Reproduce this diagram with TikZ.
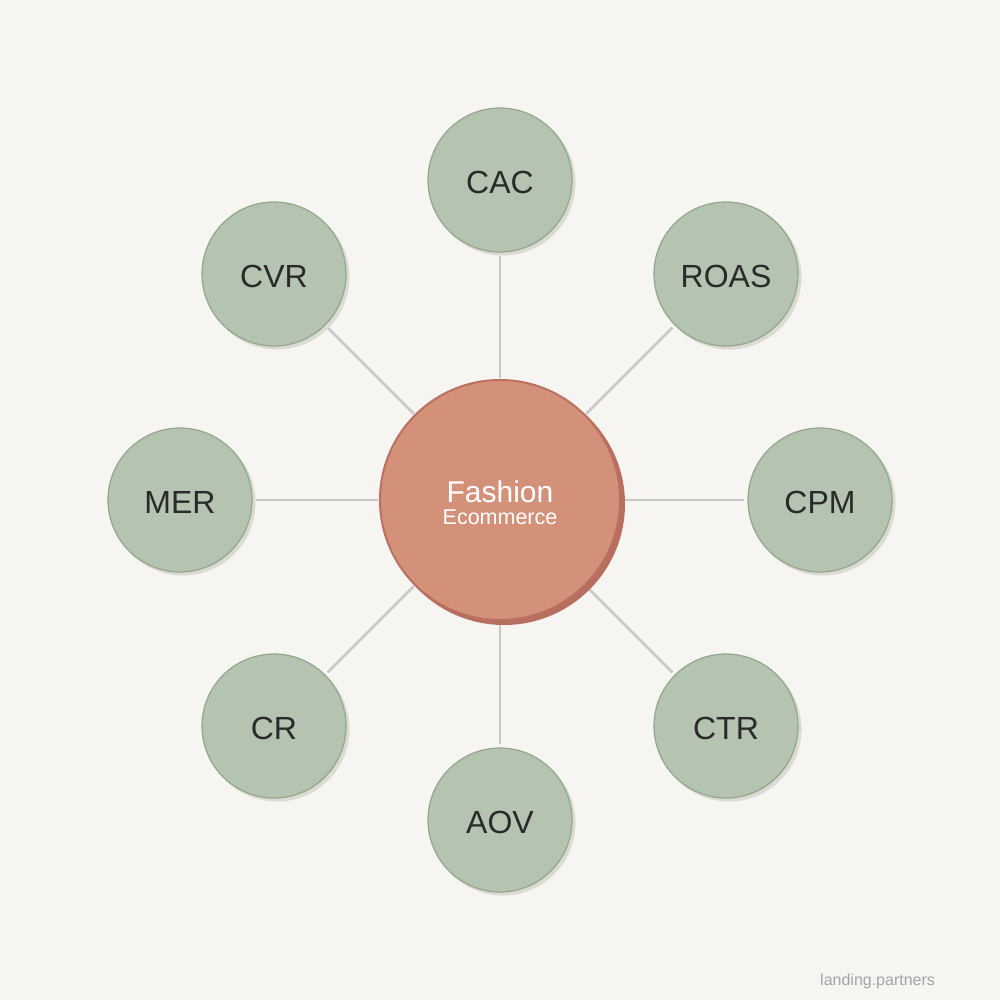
\documentclass[tikz,border=0pt]{standalone}
\usepackage{fontspec}
\setmainfont{Liberation Sans}
\definecolor{bg}{HTML}{F7F5F2}
\definecolor{hubfill}{HTML}{D4917A}
\definecolor{hubline}{HTML}{BC705F}
\definecolor{hubshadow}{HTML}{B86E5E}
\definecolor{satfill}{HTML}{B5C4B1}
\definecolor{satline}{HTML}{8FA88A}
\definecolor{satshadow}{HTML}{DCDAD2}
\definecolor{linkc}{HTML}{C8C8C8}
\definecolor{txt}{HTML}{2A2A2A}
\definecolor{wm}{HTML}{A3A3A3}
\begin{document}
\begin{tikzpicture}[x=1pt,y=-1pt,
  hub/.style={circle,inner sep=0pt,outer sep=0pt,minimum size=240pt,fill=hubfill,draw=hubline,line width=2pt},
  hubsh/.style={circle,inner sep=0pt,outer sep=0pt,minimum size=242pt,fill=hubshadow},
  sat/.style={circle,inner sep=0pt,outer sep=0pt,minimum size=144pt,fill=satfill,draw=satline,line width=1.2pt,
    text=txt,font=\fontsize{32}{36}\selectfont,text height=27pt,text depth=0pt},
  satsh/.style={circle,inner sep=0pt,outer sep=0pt,minimum size=145pt,fill=satshadow},
  link/.style={draw=linkc,line width=2.5pt,shorten <=2pt,shorten >=4pt}]
\fill[bg] (0,0) rectangle (1000,1000);
\useasboundingbox (0,0) rectangle (1000,1000);
% links first
\coordinate (h) at (500,500);
\foreach \n/\x/\y in {cac/500/180,roas/726/274,cpm/820/500,ctr/726/726,aov/500/820,cr/274/726,mer/180/500,cvr/274/274}{
  \coordinate (p\n) at (\x,\y);
}
\path (h) node[circle,minimum size=240pt,inner sep=0pt,outer sep=0pt] (hb) {};
\foreach \n in {cac,roas,cpm,ctr,aov,cr,mer,cvr}{
  \path (p\n) node[circle,minimum size=144pt,inner sep=0pt,outer sep=0pt] (b\n) {};
  \draw[link] (hb) -- (b\n);
}
% satellites
\foreach \n/\x/\y/\t in {cac/500/180/CAC,roas/726/274/ROAS,cpm/820/500/CPM,ctr/726/726/CTR,aov/500/820/AOV,cr/274/726/CR,mer/180/500/MER,cvr/274/274/CVR}{
  \node[satsh] (s\n) at (\x+3,\y+3) {};
  \node[sat] (\n) at (\x,\y) {\t};
}
% hub
\node[hubsh] (hubs) at (504,504) {};
\node[hub] (hub) at (500,500) {};
\node[anchor=base,text=white,font=\fontsize{30}{32}\selectfont,inner sep=0pt] (t1) at (500,502) {Fashion};
\node[anchor=base,text=white,font=\fontsize{21.5}{24}\selectfont,inner sep=0pt] (t2) at (500,524) {Ecommerce};
\node[anchor=base west,text=wm,font=\fontsize{16}{20}\selectfont,inner sep=0pt] (wmk) at (820,985) {landing.partners};
\end{tikzpicture}
\end{document}
